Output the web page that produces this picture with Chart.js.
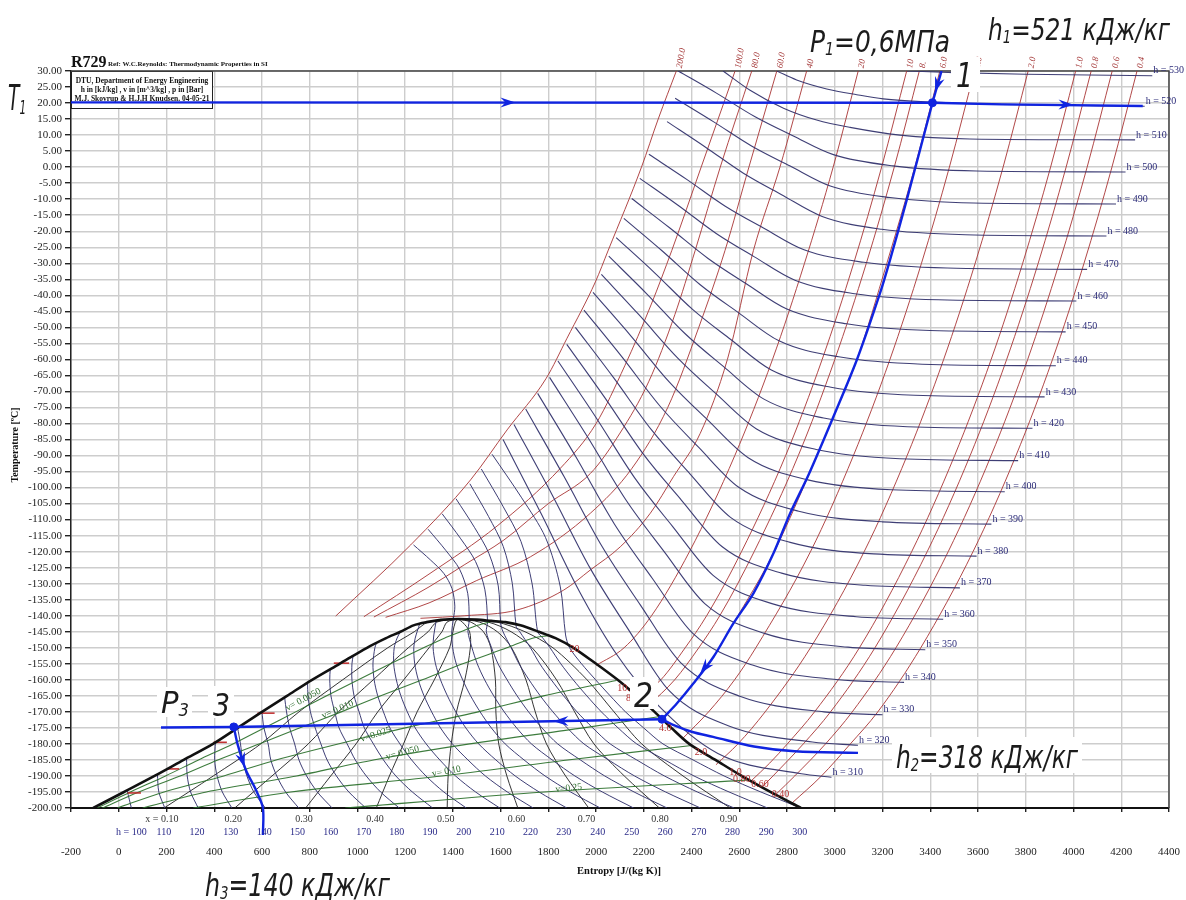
<!DOCTYPE html>
<html>
<head>
<meta charset="utf-8">
<script src="https://cdn.jsdelivr.net/npm/chart.js@4.4.1/dist/chart.umd.min.js"></script>
<style>
html, body { margin: 0; padding: 0; background: #fff; }
#wrap { width: 1186px; height: 900px; }
</style>
</head>
<body>
<div id="wrap"><canvas id="chart" width="1186" height="900"></canvas></div>
<script>
// R729 (air) T-s diagram with the refrigeration cycle drawn on top

// ---- data: [entropy J/(kg K), temperature C] ----

// saturation dome, bubble side -> critical point -> dew side
const dome = [[-107,-200],[22,-195],[150,-190],[272,-185],[395,-180],[498,-175],[600,-170],[705,-165],[810,-160],[925,-155],[1040,-150],[1120,-147],[1180,-145],[1235,-143],[1290,-142],[1350,-141.3],[1420,-141],[1500,-141.2],[1560,-141.6],[1620,-142],[1683,-143],[1760,-145],[1830,-147],[1905,-150],[2000,-155],[2090,-160],[2170,-165],[2245,-170],[2315,-175],[2390,-180],[2500,-185],[2610,-190],[2730,-195],[2858,-200]];

// isobars (bar), from the dome / start up to the top edge
const isobarNames = ['0.4','0.6','0.8','1.0','2.0','4.0','6.0','8.','10','20','40','60.0','80.0','100.0','200.0'];
const isobarLines = [
  [[2820,-198.5],[2944,-190],[3065,-180],[3180,-170],[3360,-150],[3579,-120],[3759,-90],[3912,-60],[4044,-30],[4161,0],[4266,30]],
  [[2755,-195.6],[2832,-190],[2961,-180],[3073,-170],[3256,-150],[3475,-120],[3655,-90],[3808,-60],[3940,-30],[4057,0],[4162,30]],
  [[2695,-193.5],[2741,-190],[2868,-180],[2982,-170],[3168,-150],[3387,-120],[3567,-90],[3720,-60],[3852,-30],[3969,0],[4074,30]],
  [[2650,-191.5],[2727,-186],[2801,-180],[2915,-170],[3103,-150],[3322,-120],[3502,-90],[3655,-60],[3787,-30],[3904,0],[4009,30]],
  [[2502,-186.5],[2594,-180],[2708,-170],[2898,-150],[3123,-120],[3303,-90],[3456,-60],[3588,-30],[3705,0],[3810,30]],
  [[2360,-178.5],[2471,-170],[2580,-160],[2669,-150],[2898,-120],[3078,-90],[3231,-60],[3363,-30],[3480,0],[3585,30]],
  [[2276,-172.3],[2338,-167.4],[2408,-161.1],[2492,-152.8],[2575,-142.4],[2743,-120.5],[2882,-97.6],[2994,-77.9],[3092,-60.2],[3218,-30],[3335,0],[3440,30]],
  [[2220,-168],[2329,-160],[2430,-150],[2518,-140],[2662,-120],[2847,-90],[3000,-60],[3132,-30],[3249,0],[3354,30]],
  [[2180,-165.5],[2271,-160],[2373,-150],[2463,-140],[2609,-120],[2794,-90],[2947,-60],[3079,-30],[3196,0],[3301,30]],
  [[2000,-155.5],[2117,-150],[2232,-140],[2391,-120],[2581,-90],[2739,-60],[2873,-30],[2993,0],[3098,30]],
  [[1264,-140.8],[1450,-140],[1669,-138.2],[1864,-132],[1976,-125.7],[2101,-118.5],[2227,-108],[2324,-96.6],[2436,-83.1],[2550,-60],[2659,-26],[2770,0],[2882,30]],
  [[1118,-140.5],[1300,-136],[1500,-129],[1725,-121.6],[1976,-108],[2150,-94],[2300,-75],[2430,-50],[2540,-26],[2640,0],[2757,30]],
  [[1069,-140.4],[1300,-131],[1450,-124],[1613,-116.4],[1800,-105],[1976,-95.6],[2100,-83],[2220,-67],[2330,-46],[2415,-26],[2520,0],[2652,30]],
  [[1027,-140.3],[1300,-127],[1585,-112],[1850,-94],[2000,-80],[2120,-62],[2230,-43],[2317,-26],[2440,0],[2582,30]],
  [[909,-140.1],[1223,-117.9],[1474,-97.6],[1627,-82],[1790,-66],[1878,-53.4],[1997,-35.8],[2051,-25.9],[2190,0],[2260,15],[2336,30]]
];

// isenthalps inside the dome (kJ/kg), bottom edge -> bubble line / over the dome top
const domeEnthalpies = [100,110,120,130,140,150,160,170,180,190,200,210,220,230,240,250,260,270,280,290,300];
const domeEnthalpyLines = [
  [[53,-200],[35,-194.5]],
  [[193,-200],[168,-195],[162,-189.5]],
  [[333,-200],[301,-195],[287,-190],[284,-184.5]],
  [[474,-200],[434,-195],[412,-190],[402,-185],[405,-179.5]],
  [[614,-200],[566,-195],[537,-190],[519,-185],[510,-180],[498,-175]],
  [[754,-200],[699,-195],[662,-190],[637,-185],[626,-180],[608,-175],[600,-170]],
  [[894,-200],[832,-195],[787,-190],[755,-185],[737,-180],[716,-175],[703,-170],[695,-165.5]],
  [[1035,-200],[964,-195],[912,-190],[873,-185],[847,-180],[823,-175],[803,-170],[793,-165],[791,-161]],
  [[1175,-200],[1097,-195],[1037,-190],[991,-185],[957,-180],[923,-175],[905,-170],[889,-165],[884,-160],[886,-156.7]],
  [[1315,-200],[1230,-195],[1161,-190],[1109,-185],[1067,-180],[1029,-175],[1007,-170],[986,-165],[977,-160],[977,-155],[982,-152.5]],
  [[1456,-200],[1362,-195],[1287,-190],[1227,-185],[1178,-180],[1136,-175],[1109,-170],[1085,-165],[1070,-160],[1065,-155],[1073,-150],[1080,-148.5]],
  [[1596,-200],[1495,-195],[1411,-190],[1345,-185],[1288,-180],[1242,-175],[1209,-170],[1182,-165],[1163,-160],[1152,-155],[1154,-150],[1166,-147],[1180,-145]],
  [[1736,-200],[1628,-195],[1536,-190],[1463,-185],[1398,-180],[1348,-175],[1311,-170],[1279,-165],[1255,-160],[1240,-155],[1236,-150],[1242,-147],[1250,-145],[1262,-142.3]],
  [[1877,-200],[1761,-195],[1661,-190],[1580,-185],[1508,-180],[1454,-175],[1412,-170],[1377,-165],[1348,-160],[1327,-155],[1317,-150],[1320,-146],[1330,-141.6]],
  [[2017,-200],[1893,-195],[1786,-190],[1698,-185],[1619,-180],[1561,-175],[1514,-170],[1474,-165],[1441,-160],[1414,-155],[1399,-150],[1395,-145],[1402,-141],[1408,-137],[1396,-131.5],[1362,-126.8],[1306,-122.6],[1235,-117.9]],
  [[2157,-200],[2026,-195],[1911,-190],[1816,-185],[1729,-180],[1667,-175],[1615,-170],[1571,-165],[1533,-160],[1502,-155],[1480,-150],[1463,-145],[1468,-141.5],[1462,-133],[1428,-125.5],[1370,-119.6],[1296,-113]],
  [[2297,-200],[2159,-195],[2036,-190],[1934,-185],[1839,-180],[1773,-175],[1717,-170],[1669,-165],[1627,-160],[1589,-155],[1562,-150],[1540,-145],[1545,-142],[1534,-131.9],[1495,-123.1],[1433,-116],[1355,-108.2]],
  [[2437,-200],[2291,-195],[2161,-190],[2052,-185],[1949,-180],[1879,-175],[1819,-170],[1766,-165],[1719,-160],[1677,-155],[1644,-150],[1610,-145],[1600,-142.3],[1590,-130.7],[1551,-120.6],[1490,-112.4],[1413,-103.5]],
  [[2578,-200],[2424,-195],[2286,-190],[2170,-185],[2059,-180],[1986,-175],[1920,-170],[1864,-165],[1812,-160],[1764,-155],[1725,-150],[1680,-145],[1665,-143.3],[1649,-130],[1611,-118.4],[1549,-109],[1471,-98.8]],
  [[2718,-200],[2557,-195],[2410,-190],[2288,-185],[2170,-180],[2092,-175],[2022,-170],[1961,-165],[1904,-160],[1852,-155],[1807,-150],[1777,-147],[1755,-145],[1732,-130.1],[1685,-116.8],[1611,-106],[1519,-94.2]],
  [[2858,-200],[2690,-195],[2536,-190],[2406,-185],[2280,-180],[2199,-175],[2123,-170],[2059,-165],[1998,-160],[1939,-155],[1889,-150],[1872,-146],[1850,-131],[1788,-115.6],[1688,-103.2],[1564,-89.6]]
];

// isenthalps in the vapour region (kJ/kg), 200 bar line -> right end
const vapourEnthalpies = [310,320,330,340,350,360,370,380,390,400,410,420,430,440,450,460,470,480,490,500,510,520,530];
const vapourEnthalpyLines = [
  [[1610,-85],[1770,-108.2],[1930,-132.4],[2090,-152.5],[2260,-168],[2510,-183],[2860,-189.3],[2986,-190.4]],
  [[1656,-80.3],[1816,-102.3],[1976,-125.3],[2136,-144.4],[2306,-163.4],[2556,-174.4],[2906,-179.4],[3097,-180.4]],
  [[1705,-75.5],[1865,-96.5],[2025,-118.4],[2185,-136.6],[2355,-154.7],[2605,-165.2],[2955,-170],[3200,-170.9]],
  [[1755,-70.6],[1915,-90.4],[2075,-111.2],[2235,-128.3],[2405,-145.5],[2655,-155.4],[3005,-159.9],[3290,-160.8]],
  [[1805,-65.6],[1965,-84.3],[2125,-103.9],[2285,-120],[2455,-136.2],[2705,-145.5],[3055,-149.8],[3379,-150.6]],
  [[1840,-60.5],[2000,-78.2],[2160,-96.8],[2320,-112.1],[2490,-127.4],[2740,-136.3],[3090,-140.3],[3454,-141.1]],
  [[1877,-55.3],[2037,-72],[2197,-89.5],[2357,-103.9],[2527,-118.4],[2777,-126.7],[3127,-130.5],[3524,-131.3]],
  [[1913,-50],[2073,-65.7],[2233,-82.1],[2393,-95.7],[2563,-109.3],[2813,-117.1],[3163,-120.7],[3594,-121.4]],
  [[1949,-44.6],[2109,-59.3],[2269,-74.7],[2429,-87.4],[2599,-100],[2849,-107.4],[3199,-110.7],[3656,-111.4]],
  [[1987,-39.1],[2147,-52.8],[2307,-67.1],[2467,-78.9],[2637,-90.7],[2887,-97.6],[3237,-100.7],[3712,-101.3]],
  [[2022,-33.5],[2182,-46.3],[2342,-59.6],[2502,-70.7],[2672,-81.7],[2922,-88.1],[3272,-91],[3768,-91.6]],
  [[2053,-27.8],[2213,-39.6],[2373,-52],[2533,-62.2],[2703,-72.4],[2953,-78.3],[3303,-81],[3828,-81.5]],
  [[2084,-22],[2244,-32.9],[2404,-44.4],[2564,-53.8],[2734,-63.3],[2984,-68.7],[3334,-71.2],[3879,-71.7]],
  [[2116,-16],[2276,-26.1],[2436,-36.7],[2596,-45.4],[2766,-54.2],[3016,-59.2],[3366,-61.5],[3926,-62]],
  [[2149,-9.8],[2309,-19],[2469,-28.5],[2629,-36.4],[2799,-44.3],[3049,-48.9],[3399,-51],[3967,-51.4]],
  [[2183,-3.5],[2343,-11.9],[2503,-20.7],[2663,-28],[2833,-35.3],[3083,-39.5],[3433,-41.4],[4012,-41.8]],
  [[2221,4],[2381,-3.9],[2541,-12.2],[2701,-19],[2871,-25.8],[3121,-29.7],[3471,-31.5],[4057,-31.9]],
  [[2297,14.2],[2457,6.3],[2617,-1.9],[2777,-8.6],[2947,-15.4],[3197,-19.4],[3547,-21.1],[4138,-21.5]],
  [[2331,21.5],[2491,14.2],[2651,6.6],[2811,0.4],[2981,-5.9],[3231,-9.5],[3581,-11.2],[4178,-11.5]],
  [[2344,30],[2504,23.1],[2664,15.8],[2824,9.8],[2994,3.9],[3244,0.4],[3594,-1.2],[4218,-1.5]],
  [[2532,30],[2645,24],[2785,18.4],[2924,14.7],[3064,12.4],[3273,10],[3566,8.8],[4258,8.5]],
  [[2757,30],[2840,27.2],[2966,24.4],[3092,22.6],[3203,21.3],[3407,20.3],[3700,19.6],[4298,19]],
  [[3302,30],[3500,29.5],[3800,29],[4330,28.5]]
];

// constant quality lines x = 0.1 ... 0.9
const qualityLines = [
  [[190,-200],[396,-190],[595,-180],[755,-170],[938,-160],[1127,-150],[1238,-145],[1296,-142],[1420,-141]],
  [[486,-200],[642,-190],[794,-180],[920,-170],[1066,-160],[1213,-150],[1296,-145],[1332,-142],[1420,-141]],
  [[783,-200],[888,-190],[994,-180],[1085,-170],[1194,-160],[1300,-150],[1354,-145],[1375,-142],[1420,-141]],
  [[1079,-200],[1134,-190],[1193,-180],[1250,-170],[1322,-160],[1386,-150],[1400,-145],[1410,-142],[1420,-141]],
  [[1376,-200],[1380,-190],[1393,-180],[1415,-170],[1450,-160],[1473,-150],[1470,-145],[1440,-142],[1420,-141]],
  [[1672,-200],[1626,-190],[1592,-180],[1580,-170],[1578,-160],[1559,-150],[1528,-145],[1476,-142],[1420,-141]],
  [[1969,-200],[1872,-190],[1792,-180],[1745,-170],[1706,-160],[1646,-150],[1586,-145],[1512,-142],[1420,-141]],
  [[2265,-200],[2118,-190],[1991,-180],[1910,-170],[1834,-160],[1732,-150],[1644,-145],[1548,-142],[1420,-141]],
  [[2562,-200],[2364,-190],[2191,-180],[2075,-170],[1962,-160],[1819,-150],[1702,-145],[1584,-142],[1420,-141]]
];

// specific volume lines (m3/kg) in the dome
const volumeLines = [
  [[-91,-200],[49,-195],[196,-190],[334,-185],[478,-180],[609,-175],[741,-170],[871,-165],[1004,-160],[1138,-155],[1277,-150],[1364,-147],[1433,-145],[1503,-143],[1560,-141.8]],
  [[-69,-200],[84,-195],[257,-190],[415,-185],[588,-180],[757,-175],[932,-170],[1098,-165],[1272,-160],[1441,-155],[1626,-150],[1733,-147],[1800,-146.2]],
  [[-6,-200],[190,-195],[440,-190],[659,-185],[919,-180],[1200,-175],[1505,-170],[1779,-165],[2085,-160.2]],
  [[100,-200],[367,-195],[745,-190],[1067,-185],[1470,-180],[1946,-175],[2262,-171.5]],
  [[312,-200],[721,-195],[1354,-190],[1881,-185],[2400,-180.5]],
  [[949,-200],[1782,-195],[2630,-191.3]]
];

// short red pressure ticks on the bubble line: [s from, s to, T]
const bubbleTicks = [[901,965,-154.8],[581,653,-170.4],[397,453,-179.5],[205,253,-187.8],[37,93,-195.3]];

// cycle drawn in blue
const cycleT1 = [[-200,20.2],[3409,20.1],[3700,19.6],[4290,19.1]];
const cycleTop = [[3447,30],[3409,20.1]];
const cycle12 = [[3409,20.1],[3301,-10.3],[3231,-29],[3189,-39.4],[3092,-60.2],[2994,-77.9],[2890,-96],[2813,-108],[2743,-120.5],[2659,-133],[2575,-142.4],[2492,-152.8],[2408,-161.1],[2338,-167.4],[2276,-172.3]];
const cycle23 = [[2276,-172.3],[482,-174.7],[177,-174.9]];
const cycle2h = [[2276,-172.3],[2320,-174],[2400,-176.2],[2490,-177.8],[2661,-180.8],[2832,-182.3],[3097,-182.8]];
const cycle3h = [[482,-174.7],[499,-180.4],[533,-188.2],[575,-194.4],[604,-200],[604,-208.4]];
const cyclePoints = [[3409,20.1],[2276,-172.3],[482,-174.7]];
// arrow heads: [tip s, tip T, tail s, tail T]
const cycleArrows = [[1662,20.2,1500,20.2],[4000,19.5,3850,19.6],[3420,23.5,3440,28],[2436,-158,2492,-152.8],[1821,-172.9,1990,-172.8],[527,-187.3,505,-182]];

// labels
const dewLabels = [['20',1909,-150.6],['10.',2115,-162.7],['8',2136,-165.8],['4.0',2290,-175.1],['2.0',2439,-182.6],['1.0',2584,-188.8],['0.80',2610,-191],['0.60',2687,-192.7],['0.40',2772,-195.8]];
const volumeLabels = [['v= 0.0050',773,-166.2,-28],['v= 0.010',917,-169.3,-24],['v=0.025',1077,-177.1,-18],['v= 0.050',1189,-182.8,-15],['v= 0.10',1373,-188.6,-10],['v=0.25',1885,-193.8,-6]];
const qualityRowText = ['x = 0.10','0.20','0.30','0.40','0.50','0.60','0.70','0.80','0.90'];
const qualityRowS = [181,480,776,1074,1370,1666,1960,2268,2555];
const enthalpyRowText = ['h = 100','110','120','130','140','150','160','170','180','190','200','210','220','230','240','250','260','270','280','290','300'];
const enthalpyRowS = [53,189,328,469,610,749,888,1026,1165,1304,1445,1586,1725,1864,2007,2149,2290,2431,2571,2713,2853];

// ---- drawing ----
const SERIF = "'Liberation Serif', 'Times New Roman', serif";
const HAND = "'Liberation Sans Narrow', 'DejaVu Sans Condensed', 'Liberation Sans', sans-serif";
const BLUE = '#1024e0';
const RED = 'rgba(168,52,52,0.9)';
const NAVY = 'rgba(52,52,110,0.95)';
const GREEN = 'rgba(40,110,40,0.9)';

const datasets = [];

function addLine(pts, color, width, order, smooth, extra) {
	let mono = smooth === 'mono';
	datasets.push(Object.assign({
		data: pts.map(p => ({x: p[0], y: p[1]})),
		showLine: true,
		borderColor: color,
		borderWidth: width,
		pointRadius: 0,
		pointHoverRadius: 0,
		fill: false,
		order: order,
		tension: mono ? 0 : smooth,
		cubicInterpolationMode: mono ? 'monotone' : 'default'
	}, extra || {}));
}

isobarLines.forEach(l => addLine(l, RED, 1, 6, 'mono'));
qualityLines.forEach(l => addLine(l, '#1e1e1e', 0.9, 5, 0.3));
domeEnthalpyLines.forEach(l => addLine(l, NAVY, 1, 4, 0.3));
vapourEnthalpyLines.forEach(l => addLine(l, NAVY, 1.1, 4, 'mono'));
volumeLines.forEach(l => addLine(l, GREEN, 1.1, 3, 0.3));
bubbleTicks.forEach(t => addLine([[t[0], t[2]], [t[1], t[2]]], 'rgba(190,40,40,0.95)', 1.6, 2, 0));
addLine(dome, '#111', 2.6, 1, 0.3);

addLine(cycleT1, BLUE, 2.4, 0, 0);
addLine(cycleTop, BLUE, 2.4, 0, 0);
addLine(cycle12, BLUE, 2.4, 0, 0.3);
addLine(cycle23, BLUE, 2.4, 0, 0);
addLine(cycle2h, BLUE, 2.4, 0, 0.35);
addLine(cycle3h, BLUE, 2.4, 0, 0.3, {clip: false});
datasets.push({
	data: cyclePoints.map(p => ({x: p[0], y: p[1]})),
	showLine: false,
	pointRadius: 4,
	pointBackgroundColor: BLUE,
	pointBorderColor: BLUE,
	order: 0
});

function handText(ctx, parts, x, baseY, size, width, bg) {
	// parts: [text, isSubscript]
	ctx.save();
	let sub = Math.round(size * 0.55);
	let widths = [];
	let total = 0;
	parts.forEach(p => {
		ctx.font = 'italic ' + (p[1] ? sub : size) + 'px ' + HAND;
		let w = ctx.measureText(p[0]).width;
		widths.push(w);
		total += w;
	});
	if (bg) {
		ctx.fillStyle = '#fff';
		ctx.fillRect(bg[0], bg[1], bg[2], bg[3]);
	}
	ctx.translate(x, baseY);
	ctx.scale(width / total, 1);
	ctx.fillStyle = '#1c1c1c';
	ctx.textBaseline = 'alphabetic';
	ctx.textAlign = 'left';
	let cx = 0;
	parts.forEach((p, i) => {
		ctx.font = 'italic ' + (p[1] ? sub : size) + 'px ' + HAND;
		ctx.fillText(p[0], cx, p[1] ? size * 0.1 : 0);
		cx += widths[i];
	});
	ctx.restore();
}

function arrowHead(ctx, x, y, ang) {
	ctx.save();
	ctx.translate(x, y);
	ctx.rotate(ang);
	ctx.beginPath();
	ctx.moveTo(0, 0);
	ctx.lineTo(-15, -5);
	ctx.lineTo(-10, 0);
	ctx.lineTo(-15, 5);
	ctx.closePath();
	ctx.fillStyle = BLUE;
	ctx.fill();
	ctx.restore();
}

const diagramText = {
	id: 'diagramText',
	beforeDatasetsDraw(chart) {
		let ctx = chart.ctx;
		let a = chart.chartArea;
		ctx.save();
		// info box
		ctx.fillStyle = '#fff';
		ctx.fillRect(a.left, a.top, 141, 37);
		ctx.strokeStyle = '#222';
		ctx.lineWidth = 1;
		ctx.strokeRect(a.left + 0.5, a.top + 0.5, 141, 37);
		ctx.fillStyle = '#111';
		ctx.font = 'bold 7.5px ' + SERIF;
		ctx.textAlign = 'center';
		ctx.textBaseline = 'middle';
		ctx.fillText('DTU, Department of Energy Engineering', a.left + 71, a.top + 10.5);
		ctx.fillText('h in [kJ/kg] , v in [m^3/kg] , p in [Bar]', a.left + 71, a.top + 19.5);
		ctx.fillText('M.J. Skovrup & H.J.H Knudsen. 04-05-21', a.left + 71, a.top + 28.5);
		// frame top and right
		ctx.strokeStyle = '#444';
		ctx.lineWidth = 1.5;
		ctx.beginPath();
		ctx.moveTo(a.left, a.top);
		ctx.lineTo(a.right, a.top);
		ctx.lineTo(a.right, a.bottom);
		ctx.stroke();
		ctx.restore();
	},
	afterDatasetsDraw(chart) {
		let ctx = chart.ctx;
		let xs = chart.scales.x;
		let ys = chart.scales.y;
		let px = v => xs.getPixelForValue(v);
		let py = v => ys.getPixelForValue(v);
		ctx.save();

		// pressure labels at the top of the isobars
		ctx.fillStyle = '#a53a3a';
		ctx.font = 'italic 9px ' + SERIF;
		ctx.textAlign = 'left';
		ctx.textBaseline = 'middle';
		isobarLines.forEach((l, i) => {
			let p = l[l.length - 1];
			ctx.save();
			ctx.translate(px(p[0]) + 3, py(p[1]) - 3);
			ctx.rotate(-80 * Math.PI / 180);
			ctx.fillText(isobarNames[i], 0, 0);
			ctx.restore();
		});

		// pressure labels on the dew line
		ctx.font = '10px ' + SERIF;
		ctx.textAlign = 'center';
		ctx.fillStyle = '#b53030';
		dewLabels.forEach(d => ctx.fillText(d[0], px(d[1]), py(d[2])));

		// enthalpy labels at the right ends
		ctx.font = '10px ' + SERIF;
		ctx.textAlign = 'left';
		ctx.fillStyle = '#2a2a78';
		vapourEnthalpyLines.forEach((l, i) => {
			let p = l[l.length - 1];
			ctx.fillText('h = ' + vapourEnthalpies[i], px(p[0]) + 1, py(p[1]) - 5);
		});

		// specific volume labels
		ctx.fillStyle = '#2a6a2a';
		ctx.font = '9.5px ' + SERIF;
		ctx.textAlign = 'center';
		volumeLabels.forEach(v => {
			ctx.save();
			ctx.translate(px(v[1]), py(v[2]));
			ctx.rotate(v[3] * Math.PI / 180);
			ctx.fillText(v[0], 0, 0);
			ctx.restore();
		});

		// arrow heads of the cycle
		cycleArrows.forEach(r => {
			let x1 = px(r[0]), y1 = py(r[1]);
			let ang = Math.atan2(y1 - py(r[3]), x1 - px(r[2]));
			arrowHead(ctx, x1, y1, ang);
		});

		// hand written point labels
		handText(ctx, [['1', false]], 956, 87, 34, 17, [951, 57, 29, 35]);
		handText(ctx, [['2', false]], 634, 707, 34, 19, [630, 677, 28, 32]);
		handText(ctx, [['P', false], ['3', true]], 161, 713, 30, 28, [157, 687, 35, 30]);
		handText(ctx, [['3', false]], 213, 716, 32, 17, [208, 686, 26, 32]);
		handText(ctx, [['h', false], ['2', true], ['=318 кДж/кг', false]], 896, 768, 32, 182, [892, 737, 190, 36]);
		ctx.restore();
	},
	afterDraw(chart) {
		let ctx = chart.ctx;
		let xs = chart.scales.x;
		let a = chart.chartArea;
		ctx.save();
		// rows of quality and enthalpy values under the plot
		ctx.textAlign = 'center';
		ctx.textBaseline = 'middle';
		ctx.font = '10px ' + SERIF;
		ctx.fillStyle = '#333';
		qualityRowText.forEach((t, i) => ctx.fillText(t, xs.getPixelForValue(qualityRowS[i]), a.bottom + 11));
		ctx.fillStyle = '#2a2a88';
		enthalpyRowText.forEach((t, i) => ctx.fillText(t, xs.getPixelForValue(enthalpyRowS[i]), a.bottom + 24));

		// axis titles
		ctx.fillStyle = '#111';
		ctx.font = 'bold 10.5px ' + SERIF;
		ctx.fillText('Entropy [J/(kg K)]', 619, 871);
		ctx.save();
		ctx.translate(15, 445);
		ctx.rotate(-Math.PI / 2);
		ctx.font = 'bold 10px ' + SERIF;
		ctx.fillText('Temperature [ºC]', 0, 0);
		ctx.restore();

		// chart title
		ctx.textAlign = 'left';
		ctx.textBaseline = 'alphabetic';
		ctx.font = 'bold 16px ' + SERIF;
		ctx.fillText('R729', 71, 67);
		ctx.font = 'bold 7px ' + SERIF;
		ctx.fillText('Ref: W.C.Reynolds: Thermodynamic Properties in SI', 108, 66);

		// hand written labels outside the plot
		handText(ctx, [['T', false], ['1', true]], 8, 110, 36, 18, null);
		handText(ctx, [['P', false], ['1', true], ['=0,6МПа', false]], 810, 52, 30, 140, null);
		handText(ctx, [['h', false], ['1', true], ['=521 кДж/кг', false]], 988, 40, 30, 182, null);
		handText(ctx, [['h', false], ['3', true], ['=140 кДж/кг', false]], 205, 896, 32, 185, null);
		ctx.restore();
	}
};

new Chart(document.getElementById('chart').getContext('2d'), {
	type: 'scatter',
	data: {datasets: datasets},
	options: {
		responsive: false,
		animation: false,
		events: [],
		layout: {padding: {top: 71, right: 17, left: 0, bottom: 0}},
		plugins: {legend: {display: false}, tooltip: {enabled: false}},
		scales: {
			x: {
				type: 'linear',
				min: -200,
				max: 4400,
				afterFit: s => { s.height = 92; s.paddingLeft = 0; s.paddingRight = 0; },
				ticks: {stepSize: 200, autoSkip: false, maxRotation: 0, padding: 34, color: '#222', font: {family: SERIF, size: 11}, callback: v => String(v)},
				grid: {color: '#cdcdcd', lineWidth: 1.4, tickLength: 4, tickColor: '#222'},
				border: {color: '#111', width: 2}
			},
			y: {
				type: 'linear',
				min: -200,
				max: 30,
				afterFit: s => { s.width = 71; s.paddingTop = 0; s.paddingBottom = 0; },
				ticks: {stepSize: 5, autoSkip: false, padding: 3, color: '#222', font: {family: SERIF, size: 11}, callback: v => v.toFixed(2)},
				grid: {color: '#cdcdcd', lineWidth: 1.4, tickLength: 6, tickColor: '#222'},
				border: {color: '#222', width: 1.5}
			}
		}
	},
	plugins: [diagramText]
});
</script>
</body>
</html>
